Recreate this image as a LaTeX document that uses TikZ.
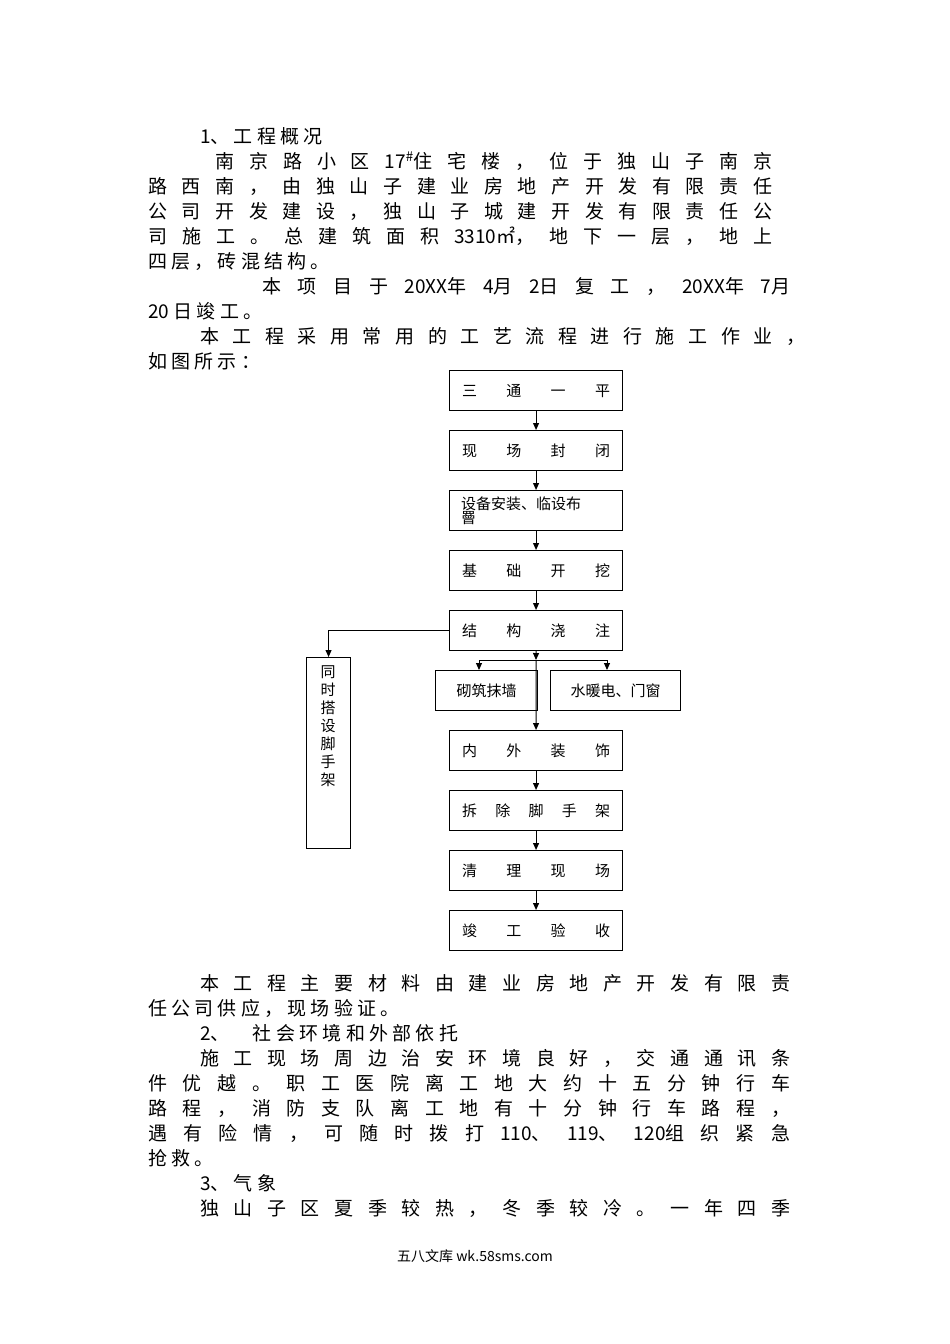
\documentclass[tikz,border=0pt]{standalone}
\usepackage{fontspec}
\setmainfont{Liberation Serif}
\newfontfamily\cjk{Noto Sans CJK SC}
\usetikzlibrary{arrows.meta}
\newcommand{\jl}[4]{\node[anchor=base west,inner sep=0] (#4) at (#1,#2) {\makebox[#3pt][s]{\cjk\fontsize{19}{19}\selectfont #4}};}
\tikzset{fb/.style={draw,line width=1.1pt,minimum width=173pt,minimum height=40pt,inner sep=0,anchor=north west},
 tx/.style={anchor=base west,inner sep=0,font=\cjk\fontsize{19}{19}\selectfont},
 ar/.style={line width=1pt,-{Triangle[length=7pt,width=6pt]}}}
\newcommand{\bt}[1]{\makebox[148pt][s]{\cjk\fontsize{15}{15}\selectfont #1}}
\begin{document}
\begin{tikzpicture}[x=1pt,y=-1pt]
\useasboundingbox (0,0) rectangle (950,1344);
\node[tx] (t1) at (200,143) {1、 工 程 概 况};
\node[anchor=base west,inner sep=0] (t2) at (215,168) {\makebox[557pt][s]{\cjk\fontsize{19}{19}\selectfont 南 京 路 小 区 17\textsuperscript{\#}住 宅 楼 ， 位 于 独 山 子 南 京}};
\node[anchor=base west,inner sep=0] (t3) at (148,193) {\makebox[624pt][s]{\cjk\fontsize{19}{19}\selectfont 路 西 南 ， 由 独 山 子 建 业 房 地 产 开 发 有 限 责 任}};
\node[anchor=base west,inner sep=0] (t4) at (148,218) {\makebox[624pt][s]{\cjk\fontsize{19}{19}\selectfont 公 司 开 发 建 设 ， 独 山 子 城 建 开 发 有 限 责 任 公}};
\node[anchor=base west,inner sep=0] (t5) at (148,243) {\makebox[624pt][s]{\cjk\fontsize{19}{19}\selectfont 司 施 工 。 总 建 筑 面 积 3310㎡， 地 下 一 层 ， 地 上}};
\node[tx] (t6) at (148,268) {四 层 ， 砖 混 结 构 。};
\node[anchor=base west,inner sep=0] (t7) at (262,293) {\makebox[528pt][s]{\cjk\fontsize{19}{19}\selectfont 本 项 目 于 20XX年 4月 2日 复 工 ， 20XX年 7月}};
\node[tx] (t8) at (148,318) {20 日 竣 工 。};
\node[anchor=base west,inner sep=0] (t9) at (200,343) {\makebox[605pt][s]{\cjk\fontsize{19}{19}\selectfont 本 工 程 采 用 常 用 的 工 艺 流 程 进 行 施 工 作 业 ，}};
\node[tx] (t10) at (148,368) {如 图 所 示 ：};
% boxes
\node[fb] (b1) at (449,370) {\bt{三 通 一 平}};
\node[fb] (b2) at (449,430) {\bt{现 场 封 闭}};
\node[fb] (b3) at (449,490) {\parbox{150pt}{\cjk\fontsize{15}{11}\selectfont 设备安装、临设布\\罾}};
\node[fb] (b4) at (449,550) {\bt{基 础 开 挖}};
\node[fb] (b5) at (449,610) {\bt{结 构 浇 注}};
\node[fb,minimum width=102pt] (b6) at (435,670) {\cjk\fontsize{15}{15}\selectfont 砌筑抹墙};
\node[fb,minimum width=130pt] (b7) at (550,670) {\cjk\fontsize{15}{15}\selectfont 水暖电、门窗};
\node[fb] (b8) at (449,730) {\bt{内 外 装 饰}};
\node[fb] (b9) at (449,790) {\bt{拆 除 脚 手 架}};
\node[fb] (b10) at (449,850) {\bt{清 理 现 场}};
\node[fb] (b11) at (449,910) {\bt{竣 工 验 收}};
\node[draw,line width=1.1pt,minimum width=44pt,minimum height=191pt,anchor=north west,inner sep=0] (bl) at (306,657) {};
\node[anchor=north,inner sep=0,align=center,font=\cjk\fontsize{15}{18}\selectfont] (blt) at (328,665) {同\\时\\搭\\设\\脚\\手\\架};
\draw[ar] (b1.south) -- (b2.north);
\draw[ar] (b2.south) -- (b3.north);
\draw[ar] (b3.south) -- (b4.north);
\draw[ar] (b4.south) -- (b5.north);
\coordinate (s) at (536,660);
\draw[ar] (b5.south) -- (s);
\draw[ar] (s) -| (479,670);
\draw[ar] (s) -| (607,670);
\draw[ar] (536,660) -- (b8.north);
\draw[ar] (b8.south) -- (b9.north);
\draw[ar] (b9.south) -- (b10.north);
\draw[ar] (b10.south) -- (b11.north);
\draw[ar] (b5.west) -| (bl.north);
% lower text
\node[anchor=base west,inner sep=0] (u1) at (200,990) {\makebox[590pt][s]{\cjk\fontsize{19}{19}\selectfont 本 工 程 主 要 材 料 由 建 业 房 地 产 开 发 有 限 责}};
\node[tx] (u2) at (148,1015) {任 公 司 供 应 ， 现 场 验 证 。};
\node[tx] (u3) at (200,1040) {2、 \quad 社 会 环 境 和 外 部 依 托};
\node[anchor=base west,inner sep=0] (u4) at (200,1065) {\makebox[590pt][s]{\cjk\fontsize{19}{19}\selectfont 施 工 现 场 周 边 治 安 环 境 良 好 ， 交 通 通 讯 条}};
\node[anchor=base west,inner sep=0] (u5) at (148,1090) {\makebox[642pt][s]{\cjk\fontsize{19}{19}\selectfont 件 优 越 。 职 工 医 院 离 工 地 大 约 十 五 分 钟 行 车}};
\node[anchor=base west,inner sep=0] (u6) at (148,1115) {\makebox[642pt][s]{\cjk\fontsize{19}{19}\selectfont 路 程 ， 消 防 支 队 离 工 地 有 十 分 钟 行 车 路 程 ，}};
\node[anchor=base west,inner sep=0] (u7) at (148,1140) {\makebox[642pt][s]{\cjk\fontsize{19}{19}\selectfont 遇 有 险 情 ， 可 随 时 拨 打 110、 119、 120组 织 紧 急}};
\node[tx] (u8) at (148,1165) {抢 救 。};
\node[tx] (u9) at (200,1190) {3、 气 象};
\node[anchor=base west,inner sep=0] (u10) at (200,1215) {\makebox[590pt][s]{\cjk\fontsize{19}{19}\selectfont 独 山 子 区 夏 季 较 热 ， 冬 季 较 冷 。 一 年 四 季}};
\node[inner sep=0,font=\cjk\fontsize{14}{14}\selectfont] (ft) at (475,1256) {五八文库 wk.58sms.com};
\end{tikzpicture}
\end{document}
